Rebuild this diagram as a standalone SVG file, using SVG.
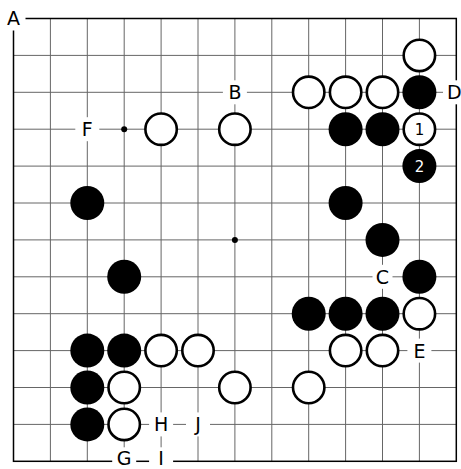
<svg xmlns="http://www.w3.org/2000/svg" width="461" height="469" viewBox="0 0 461 469">
<style>
.bg{fill:#ffffff}
.in{stroke:#666666;stroke-width:1;fill:none}
.edge{stroke:#000000;stroke-width:1.5;fill:none}
.w{fill:#ffffff;stroke:#000000;stroke-width:2.6}
.b{fill:#000000}
.star{fill:#000000}
.mask{fill:#ffffff}
.lbl{font-family:"DejaVu Sans","Verdana",sans-serif;font-size:19px;fill:#000000;text-anchor:middle}
.num{font-family:"DejaVu Sans","Verdana",sans-serif;font-size:15px;text-anchor:middle}
</style>
<rect class="bg" x="0" y="0" width="461" height="469"/>
<g id="grid">
<path class="in" d="M50.4 18.5V461.3M87.3 18.5V461.3M124.2 18.5V461.3M161.1 18.5V461.3M198 18.5V461.3M234.9 18.5V461.3M271.8 18.5V461.3M308.7 18.5V461.3M345.6 18.5V461.3M382.5 18.5V461.3M419.4 18.5V461.3"/>
<path class="in" d="M13.5 55.4H456.3M13.5 92.3H456.3M13.5 129.2H456.3M13.5 166.1H456.3M13.5 203H456.3M13.5 239.9H456.3M13.5 276.8H456.3M13.5 313.7H456.3M13.5 350.6H456.3M13.5 387.5H456.3M13.5 424.4H456.3"/>
<rect class="edge" x="13.5" y="18.5" width="442.8" height="442.8"/>
<circle class="star" cx="124.2" cy="129.2" r="3"/>
<circle class="star" cx="234.9" cy="239.9" r="3"/>
</g>
<g id="stones">
<g id="w-11-1"><circle class="w" cx="419.4" cy="55.4" r="15.7"/></g>
<g id="w-8-2"><circle class="w" cx="308.7" cy="92.3" r="15.7"/></g>
<g id="w-9-2"><circle class="w" cx="345.6" cy="92.3" r="15.7"/></g>
<g id="w-10-2"><circle class="w" cx="382.5" cy="92.3" r="15.7"/></g>
<g id="b-11-2"><circle class="b" cx="419.4" cy="92.3" r="17"/></g>
<g id="w-4-3"><circle class="w" cx="161.1" cy="129.2" r="15.7"/></g>
<g id="w-6-3"><circle class="w" cx="234.9" cy="129.2" r="15.7"/></g>
<g id="b-9-3"><circle class="b" cx="345.6" cy="129.2" r="17"/></g>
<g id="b-10-3"><circle class="b" cx="382.5" cy="129.2" r="17"/></g>
<g id="w-11-3"><circle class="w" cx="419.4" cy="129.2" r="15.7"/><text class="num" x="419.4" y="134.6" fill="#000000">1</text></g>
<g id="b-11-4"><circle class="b" cx="419.4" cy="166.1" r="17"/><text class="num" x="419.4" y="171.5" fill="#ffffff">2</text></g>
<g id="b-2-5"><circle class="b" cx="87.3" cy="203" r="17"/></g>
<g id="b-9-5"><circle class="b" cx="345.6" cy="203" r="17"/></g>
<g id="b-10-6"><circle class="b" cx="382.5" cy="239.9" r="17"/></g>
<g id="b-3-7"><circle class="b" cx="124.2" cy="276.8" r="17"/></g>
<g id="b-11-7"><circle class="b" cx="419.4" cy="276.8" r="17"/></g>
<g id="b-8-8"><circle class="b" cx="308.7" cy="313.7" r="17"/></g>
<g id="b-9-8"><circle class="b" cx="345.6" cy="313.7" r="17"/></g>
<g id="b-10-8"><circle class="b" cx="382.5" cy="313.7" r="17"/></g>
<g id="w-11-8"><circle class="w" cx="419.4" cy="313.7" r="15.7"/></g>
<g id="b-2-9"><circle class="b" cx="87.3" cy="350.6" r="17"/></g>
<g id="b-3-9"><circle class="b" cx="124.2" cy="350.6" r="17"/></g>
<g id="w-4-9"><circle class="w" cx="161.1" cy="350.6" r="15.7"/></g>
<g id="w-5-9"><circle class="w" cx="198" cy="350.6" r="15.7"/></g>
<g id="w-9-9"><circle class="w" cx="345.6" cy="350.6" r="15.7"/></g>
<g id="w-10-9"><circle class="w" cx="382.5" cy="350.6" r="15.7"/></g>
<g id="b-2-10"><circle class="b" cx="87.3" cy="387.5" r="17"/></g>
<g id="w-3-10"><circle class="w" cx="124.2" cy="387.5" r="15.7"/></g>
<g id="w-6-10"><circle class="w" cx="234.9" cy="387.5" r="15.7"/></g>
<g id="w-8-10"><circle class="w" cx="308.7" cy="387.5" r="15.7"/></g>
<g id="b-2-11"><circle class="b" cx="87.3" cy="424.4" r="17"/></g>
<g id="w-3-11"><circle class="w" cx="124.2" cy="424.4" r="15.7"/></g>
</g>
<g id="labels">
<g id="lbl-A"><rect class="mask" x="1.5" y="6.5" width="24" height="24"/><text class="lbl" x="13.5" y="25.4">A</text></g>
<g id="lbl-B"><rect class="mask" x="222.9" y="80.3" width="24" height="24"/><text class="lbl" x="234.9" y="99.2">B</text></g>
<g id="lbl-D"><rect class="mask" x="443" y="80.3" width="18" height="24"/><text class="lbl" x="454.3" y="99.2">D</text></g>
<g id="lbl-F"><rect class="mask" x="75.3" y="117.2" width="24" height="24"/><text class="lbl" x="87.3" y="136.1">F</text></g>
<g id="lbl-C"><rect class="mask" x="372.5" y="264.8" width="20" height="24"/><text class="lbl" x="382.5" y="283.7">C</text></g>
<g id="lbl-E"><rect class="mask" x="407.4" y="338.6" width="24" height="24"/><text class="lbl" x="419.4" y="357.5">E</text></g>
<g id="lbl-H"><rect class="mask" x="149.1" y="412.4" width="24" height="24"/><text class="lbl" x="161.1" y="431.3">H</text></g>
<g id="lbl-J"><rect class="mask" x="186" y="412.4" width="24" height="24"/><text class="lbl" x="198" y="431.3">J</text></g>
<g id="lbl-G"><rect class="mask" x="112.2" y="447.3" width="24" height="22"/><text class="lbl" x="124.2" y="464.5">G</text></g>
<g id="lbl-I"><rect class="mask" x="149.1" y="447.3" width="24" height="22"/><text class="lbl" x="161.1" y="464.5">I</text></g>
</g>
</svg>
